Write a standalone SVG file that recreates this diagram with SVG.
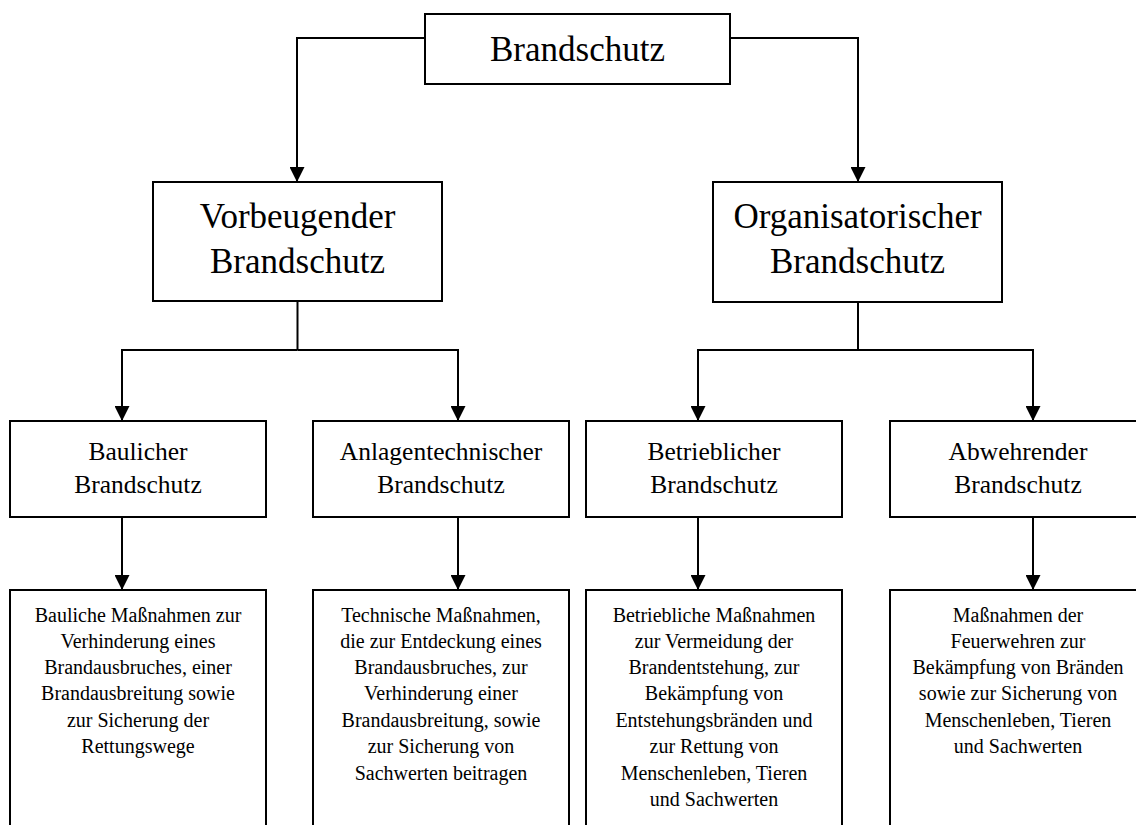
<svg xmlns="http://www.w3.org/2000/svg" width="1136" height="825" viewBox="0 0 1136 825">
  <defs>
    <marker id="arrow" markerUnits="userSpaceOnUse" markerWidth="15" markerHeight="15" refX="15" refY="7.5" orient="auto">
      <path d="M0,0 L15,7.5 L0,15 z" fill="#000"/>
    </marker>
    <style>
      .box { fill: #fff; stroke: #000; stroke-width: 2; }
      .conn { fill: none; stroke: #000; stroke-width: 2; }
      .arr { marker-end: url(#arrow); }
      text { font-family: "Liberation Serif", "Times New Roman", serif; fill: #000; text-anchor: middle; }
      .t1 { font-size: 35px; }
      .t3 { font-size: 25.5px; }
      .t4 { font-size: 20px; }
    </style>
  </defs>
  <rect x="0" y="0" width="1136" height="825" fill="#fff"/>

  <g id="connectors">
    <path class="conn arr" d="M425,38 H297 V182"/>
    <path class="conn arr" d="M730,38 H858 V182"/>
    <path class="conn" d="M297.5,301 V350"/>
    <path class="conn arr" d="M297.5,350 H122 V421"/>
    <path class="conn arr" d="M297.5,350 H458 V421"/>
    <path class="conn" d="M858,302 V350"/>
    <path class="conn arr" d="M858,350 H698 V421"/>
    <path class="conn arr" d="M858,350 H1033 V421"/>
    <path class="conn arr" d="M122,517 V590"/>
    <path class="conn arr" d="M458,517 V590"/>
    <path class="conn arr" d="M698,517 V590"/>
    <path class="conn arr" d="M1033,517 V590"/>
  </g>

  <g id="brandschutz">
    <rect class="box" x="425" y="14" width="305" height="70"/>
    <text class="t1" x="577.5" y="61">Brandschutz</text>
  </g>

  <g id="vorbeugender">
    <rect class="box" x="153" y="182" width="289" height="119"/>
    <text class="t1" x="297.5" y="228">Vorbeugender</text>
    <text class="t1" x="297.5" y="273">Brandschutz</text>
  </g>

  <g id="organisatorischer">
    <rect class="box" x="713" y="182" width="289" height="120"/>
    <text class="t1" x="857.5" y="228">Organisatorischer</text>
    <text class="t1" x="857.5" y="273">Brandschutz</text>
  </g>

  <g id="baulicher">
    <rect class="box" x="10" y="421" width="256" height="96"/>
    <text class="t3" x="138" y="460">Baulicher</text>
    <text class="t3" x="138" y="493">Brandschutz</text>
  </g>

  <g id="anlagentechnischer">
    <rect class="box" x="313" y="421" width="256" height="96"/>
    <text class="t3" x="441" y="460">Anlagentechnischer</text>
    <text class="t3" x="441" y="493">Brandschutz</text>
  </g>

  <g id="betrieblicher">
    <rect class="box" x="586" y="421" width="256" height="96"/>
    <text class="t3" x="714" y="460">Betrieblicher</text>
    <text class="t3" x="714" y="493">Brandschutz</text>
  </g>

  <g id="abwehrender">
    <rect class="box" x="890" y="421" width="256" height="96"/>
    <text class="t3" x="1018" y="460">Abwehrender</text>
    <text class="t3" x="1018" y="493">Brandschutz</text>
  </g>

  <g id="baulicher-desc">
    <rect class="box" x="10" y="590" width="256" height="250"/>
    <text class="t4" x="138" y="622">Bauliche Maßnahmen zur</text>
    <text class="t4" x="138" y="648">Verhinderung eines</text>
    <text class="t4" x="138" y="674">Brandausbruches, einer</text>
    <text class="t4" x="138" y="700">Brandausbreitung sowie</text>
    <text class="t4" x="138" y="727">zur Sicherung der</text>
    <text class="t4" x="138" y="753">Rettungswege</text>
  </g>

  <g id="anlagentechnischer-desc">
    <rect class="box" x="313" y="590" width="256" height="250"/>
    <text class="t4" x="441" y="622">Technische Maßnahmen,</text>
    <text class="t4" x="441" y="648">die zur Entdeckung eines</text>
    <text class="t4" x="441" y="674">Brandausbruches, zur</text>
    <text class="t4" x="441" y="700">Verhinderung einer</text>
    <text class="t4" x="441" y="727">Brandausbreitung, sowie</text>
    <text class="t4" x="441" y="753">zur Sicherung von</text>
    <text class="t4" x="441" y="780">Sachwerten beitragen</text>
  </g>

  <g id="betrieblicher-desc">
    <rect class="box" x="586" y="590" width="256" height="250"/>
    <text class="t4" x="714" y="622">Betriebliche Maßnahmen</text>
    <text class="t4" x="714" y="648">zur Vermeidung der</text>
    <text class="t4" x="714" y="674">Brandentstehung, zur</text>
    <text class="t4" x="714" y="700">Bekämpfung von</text>
    <text class="t4" x="714" y="727">Entstehungsbränden und</text>
    <text class="t4" x="714" y="753">zur Rettung von</text>
    <text class="t4" x="714" y="780">Menschenleben, Tieren</text>
    <text class="t4" x="714" y="806">und Sachwerten</text>
  </g>

  <g id="abwehrender-desc">
    <rect class="box" x="890" y="590" width="256" height="250"/>
    <text class="t4" x="1018" y="622">Maßnahmen der</text>
    <text class="t4" x="1018" y="648">Feuerwehren zur</text>
    <text class="t4" x="1018" y="674">Bekämpfung von Bränden</text>
    <text class="t4" x="1018" y="700">sowie zur Sicherung von</text>
    <text class="t4" x="1018" y="727">Menschenleben, Tieren</text>
    <text class="t4" x="1018" y="753">und Sachwerten</text>
  </g>
</svg>
